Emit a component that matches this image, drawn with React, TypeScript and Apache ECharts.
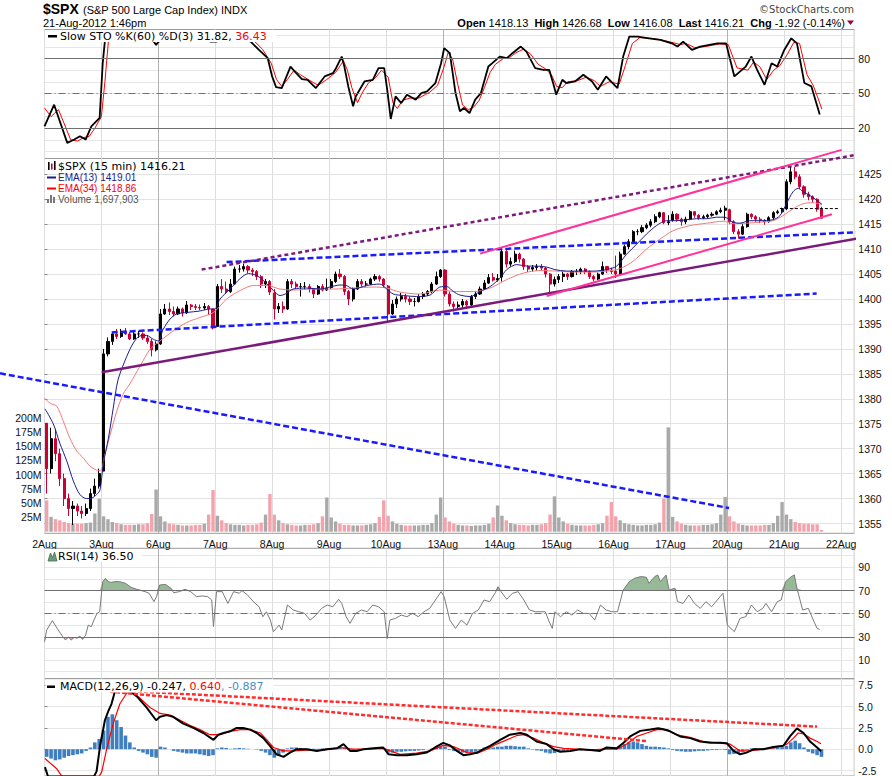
import React, { useEffect, useRef } from "react";
import * as echarts from "echarts";

// ---------------- data ----------------
const dayLabels = ["2Aug","3Aug","6Aug","7Aug","8Aug","9Aug","10Aug","13Aug","14Aug","15Aug","16Aug","17Aug","20Aug","21Aug","22Aug"];
const SLOTS = 185; // half-hour slots across the x axis (13 per session)

// candles per half-hour: [open, close, low, high]
const aug02 = [[1375.1,1366,1361,1375.1],[1366,1372,1365,1374.2],[1372,1369,1367.5,1374],[1369,1364,1362.5,1370],[1364,1360,1358.5,1365],[1360,1358,1356.5,1361],[1358,1358.5,1354.7,1359.5],[1358.5,1357.5,1356.5,1359],[1357.5,1357,1356,1358.5],[1357,1358,1356.5,1359],[1358,1361,1357.5,1362],[1361,1362.5,1360.5,1364],[1362.5,1365,1362,1366]];
const aug03 = [[1365.5,1389,1365.5,1390],[1389,1391.5,1388.5,1392.3],[1391.5,1393,1390.8,1393.3],[1393,1392.5,1392,1394],[1392.5,1393.5,1392.2,1394],[1393.5,1393,1392.8,1394.2],[1393,1392,1391.8,1393.4],[1392,1393,1391.8,1393.4],[1393,1393,1392.2,1393.6],[1393,1392.2,1391.8,1393.3],[1392.2,1391.5,1391,1392.8],[1391.5,1389.8,1388.5,1392],[1389.8,1391,1389.5,1391.5]];
const aug06 = [[1391,1397,1390.8,1398],[1397,1398,1396.8,1399],[1398,1397.5,1396.8,1399.3],[1397.5,1397,1396.5,1398.5],[1397,1398,1396.8,1398.5],[1398,1397.2,1396.5,1398.3],[1397.2,1398.8,1397,1399.6],[1398.8,1398.5,1397.8,1399],[1398.5,1398.3,1397.8,1399],[1398.3,1398.2,1397.8,1398.9],[1398.2,1398.5,1397.8,1399.2],[1398.5,1398,1396.8,1398.8],[1398,1394.2,1393.9,1398]];
const aug07 = [[1394.5,1402.5,1394.5,1403],[1402.5,1402,1401.2,1404],[1402,1401.5,1401,1403.5],[1401.5,1403,1401.2,1404],[1403,1406,1402.8,1406.5],[1406,1406,1405.3,1406.8],[1406,1406.5,1405.5,1407.1],[1406.5,1405.8,1405.2,1406.8],[1405.8,1405.5,1404.6,1406.2],[1405.5,1404.5,1403.8,1405.8],[1404.5,1403,1402.2,1404.8],[1403,1403.5,1402.2,1404],[1403.5,1401.4,1400.8,1403.8]];
const aug08 = [[1401.2,1398,1395.9,1402],[1398,1398.5,1397.2,1399.2],[1398.5,1398,1397.2,1399.5],[1398,1403.5,1397.8,1404],[1403.5,1403,1402.2,1404],[1403,1402.5,1402,1403.5],[1402.5,1402.5,1400.5,1403.2],[1402.5,1402.5,1401.8,1403.4],[1402.5,1402,1401.3,1403],[1402,1401,1400.2,1402.2],[1401,1402.5,1400.8,1402.8],[1402.5,1401.8,1401.5,1403],[1401.8,1402.2,1401.6,1404.1]];
const aug09 = [[1402.3,1403.5,1402,1404],[1403.5,1405,1403.2,1405.5],[1405,1404.5,1404,1406],[1404.5,1401.5,1400.8,1404.8],[1401.5,1400,1398.8,1401.8],[1400,1402,1399.5,1402.3],[1402,1403.5,1401.8,1404],[1403.5,1403,1402.5,1404],[1403,1403,1402.5,1403.6],[1403,1404,1402.8,1404.3],[1404,1404.5,1403.6,1405],[1404.5,1404,1403.5,1404.8],[1404,1402.8,1402.2,1404.2]];
const aug10 = [[1402.6,1397,1395.6,1402.8],[1397,1399,1396.8,1399.8],[1399,1400,1398.2,1400.5],[1400,1400.5,1399.5,1401.2],[1400.5,1400,1399.3,1401],[1400,1399.5,1398.8,1400.5],[1399.5,1399.5,1398.5,1400.2],[1399.5,1400.5,1399.3,1401],[1400.5,1401,1400,1401.4],[1401,1401.5,1400.6,1401.8],[1401.5,1403,1401.2,1403.4],[1403,1404.5,1402.8,1405.5],[1404.5,1405.8,1404.2,1406]];
const aug13 = [[1405.8,1401,1400.5,1406],[1401,1399,1398.5,1401.5],[1399,1398.5,1397.5,1399.5],[1398.5,1398.8,1397.8,1399.5],[1398.8,1399.5,1398.3,1400],[1399.5,1398.8,1398,1399.8],[1398.8,1400.5,1398.6,1400.8],[1400.5,1401,1400,1401.4],[1401,1402,1400.8,1402.5],[1402,1403.2,1401.8,1403.8],[1403.2,1404.3,1403,1405],[1404.3,1403.8,1403.5,1405.2],[1403.8,1404.1,1403.5,1405]];
const aug14 = [[1404.4,1409.5,1403.5,1410],[1409.5,1407,1406.3,1409.8],[1407,1407.5,1406.5,1408.3],[1407.5,1409,1407.2,1409.7],[1409,1408,1407.3,1409.3],[1408,1406.5,1405.8,1408.2],[1406.5,1406,1405.4,1406.8],[1406,1406.3,1405.5,1406.8],[1406.3,1406.5,1405.7,1407],[1406.5,1406.2,1405.8,1407],[1406.2,1405,1404.3,1406.4],[1405,1403,1401.2,1405.2],[1403,1403.9,1402.5,1404.5]];
const aug15 = [[1403.9,1404.5,1403.2,1405],[1404.5,1405,1403.4,1405.5],[1405,1404.5,1403.8,1405.2],[1404.5,1405.5,1404.3,1405.8],[1405.5,1405.5,1404.8,1406],[1405.5,1406,1405,1406.3],[1406,1405.5,1405,1406.2],[1405.5,1404.5,1404,1405.7],[1404.5,1404,1403.5,1404.8],[1404,1405,1403.8,1405.3],[1405,1406.5,1404.8,1407.5],[1406.5,1405.8,1405.2,1406.6],[1405.8,1405.5,1405,1406.3]];
const aug16 = [[1405.6,1405,1404.2,1408.7],[1405,1409,1404.8,1409.5],[1409,1410.5,1408.8,1410.9],[1410.5,1411.5,1410,1412],[1411.5,1413.5,1411.2,1413.8],[1413.5,1413.5,1412.8,1414],[1413.5,1414.3,1413.2,1414.8],[1414.3,1414.8,1414,1415.2],[1414.8,1415.5,1414.4,1416],[1415.5,1416.5,1415.2,1417],[1416.5,1417.3,1416.2,1417.5],[1417.3,1415.3,1415,1417.4],[1415.3,1415.5,1414.8,1416.8]];
const aug17 = [[1415.8,1417,1415.5,1417.6],[1417,1416,1415.5,1417.2],[1416,1415.5,1414.7,1416.3],[1415.5,1416,1415,1416.5],[1416,1417.5,1415.8,1417.8],[1417.5,1416.8,1416.3,1417.6],[1416.8,1416.3,1415.9,1417],[1416.3,1416.5,1416,1416.9],[1416.5,1416.8,1416.2,1417.1],[1416.8,1417,1416.5,1417.4],[1417,1417.5,1416.8,1417.8],[1417.5,1417.8,1417.2,1418.3],[1417.8,1418.2,1415.8,1418.7]];
const aug20 = [[1417.9,1415.5,1415,1418.1],[1415.5,1413.5,1413,1415.8],[1413.5,1413,1412.1,1414],[1413,1414.5,1412.8,1415],[1414.5,1417,1414.3,1417.3],[1417,1416.5,1416,1417.2],[1416.5,1416,1415.5,1416.8],[1416,1415.8,1415.2,1416.4],[1415.8,1415.5,1414.9,1416],[1415.5,1416.3,1415.3,1416.6],[1416.3,1417.3,1416,1417.6],[1417.3,1417.5,1417,1417.9],[1417.5,1418.1,1417.2,1418.3]];
const aug21 = [[1418.1,1423.5,1417.8,1424],[1423.5,1425.5,1423,1426.7],[1425.5,1424.5,1424,1426.5],[1424.5,1422.5,1422,1425],[1422.5,1421,1420.3,1422.8],[1421,1420.5,1419.8,1421.5],[1420.5,1420,1419.3,1420.8],[1420,1418,1417.5,1420.2],[1418,1416.2,1416.1,1418.5]];

// volume per half-hour bar, millions
const vol02 = [55,26,22,20,17,15,14,14,14,15,16,32,58];
const vol03 = [27,22,17,15,13,12,12,12,13,13,15,31,74];
const vol06 = [27,18,14,13,12,11,11,11,12,12,14,30,73];
const vol07 = [28,20,15,13,12,12,11,12,12,13,16,30,66];
const vol08 = [30,20,15,13,12,11,11,12,12,13,15,27,60];
const vol09 = [25,18,14,12,12,11,11,11,12,13,15,26,55];
const vol10 = [28,18,14,12,11,11,11,11,12,12,15,30,60];
const vol13 = [25,18,14,12,11,11,10,11,11,12,14,25,46];
const vol14 = [28,20,15,13,12,12,11,12,12,13,15,30,62];
const vol15 = [25,18,14,12,11,11,11,11,12,13,15,28,52];
const vol16 = [27,20,15,13,12,11,11,12,12,13,16,58,183];
const vol17 = [26,18,14,12,11,11,11,12,12,13,15,30,61];
const vol20 = [27,18,14,12,11,11,11,11,12,12,15,28,52];
const vol21 = [30,22,17,15,14,14,13,13,3];

// [slot position, value]
const ema13 = [[0.1,1378],[2,1375],[3.5,1371.1],[5.1,1367.5],[6.6,1363.5],[8.1,1360.8],[9.6,1360],[10.8,1360.1],[11.9,1360.8],[12.7,1361.8],[13.4,1366.8],[14.6,1372.1],[15.7,1378.1],[16.8,1383.8],[18.8,1388.5],[20.3,1391.2],[21.8,1392.6],[23.3,1392.7],[24.9,1391.9],[26,1391.6],[27.1,1393.9],[28.7,1396],[30.2,1397],[32.5,1397.3],[35.5,1397.6],[37.8,1398],[38.9,1398],[40.1,1400],[42.4,1402],[44.7,1404.1],[46.6,1405.1],[48.5,1404.7],[50.4,1403.4],[52.3,1401.7],[53.8,1400.7],[55,1401],[56.8,1402],[59.9,1402.2],[62.9,1402],[65.2,1402.4],[67.5,1402.8],[69,1402.7],[70.5,1402],[73.6,1402.7],[76.6,1403],[78.2,1402],[79.7,1401],[82,1400.7],[85,1400.5],[88.1,1400.8],[90.3,1402.4],[91.9,1402.5],[93.4,1401.5],[94.9,1400.8],[97.2,1400.5],[99.5,1401.5],[101.8,1402.5],[104.1,1404.2],[105.6,1405.9],[107.9,1406.9],[110.2,1406.6],[112.4,1406.6],[114.7,1406.4],[116.6,1405.9],[119.3,1405.6],[122.3,1405.6],[125.4,1405.6],[128.4,1405.9],[130.7,1406.6],[133,1409],[135.3,1411],[137.5,1413],[139.8,1414.7],[142.1,1415.7],[144.4,1415.7],[146.7,1415.9],[149,1416.1],[151.3,1416.1],[153.5,1416.4],[155.4,1416.4],[157.3,1415.4],[158.8,1415.2],[161.1,1415.7],[163.4,1415.7],[166.4,1415.9],[168,1416.7],[169.5,1419.1],[171,1421.5],[172.2,1422.2],[173.3,1421.5],[174.8,1420.8],[176.4,1419.8],[177.6,1419]];
const ema34 = [[0,1380.1],[1.3,1379.1],[2.8,1378.5],[4.3,1375.5],[5.8,1372.1],[7.4,1369.5],[8.9,1368.1],[10.4,1366.5],[11.9,1365.7],[12.8,1365.6],[13.8,1368.8],[15,1372.8],[16.5,1377.5],[18,1381],[19.5,1383],[21.8,1386.5],[24.1,1389.9],[26.4,1391.6],[29.4,1393.6],[32.5,1395.3],[35.5,1396.3],[38.6,1397.3],[41.6,1400],[44.7,1401.7],[47.7,1402.7],[50.8,1402.7],[53.8,1402],[56.8,1401.8],[61.4,1402],[66,1402],[70.5,1402.2],[75.1,1402.4],[78.2,1402.2],[81.2,1401.4],[85.8,1401],[90.3,1401.8],[94.2,1401.5],[98,1401.5],[101.8,1402.2],[105.6,1403.9],[109.4,1405.2],[113.2,1405.7],[117,1405.6],[120.8,1405.4],[124.6,1405.4],[128.4,1405.6],[131.5,1406.1],[134.5,1407.6],[137.5,1410],[140.6,1412],[143.6,1413.7],[147.4,1414.7],[151.3,1415.2],[155.1,1415.6],[157.3,1415.1],[160.4,1415.2],[163.4,1415.4],[166.4,1415.7],[168.7,1416.7],[171,1418.1],[173.3,1419.1],[175.6,1419.3],[177.6,1418.9]];

const stoK = [[0,21.7],[2.2,40.3],[5.2,7.4],[6.8,10.3],[8.1,13.1],[9.4,10.3],[10.7,21.7],[12.6,28.9],[13.3,76],[13.9,99],[16,99.5],[20,98.5],[24.5,97],[25.5,91.7],[26.5,97],[30,99],[35,98.5],[38,94.6],[39.3,94.6],[40.5,98.5],[44,99],[47.1,94.6],[49,87.4],[51,80.3],[52,64.6],[52.9,55.4],[54.2,54.6],[56.2,73.1],[57.5,67.4],[58.8,62.3],[60.1,61.7],[62,54.6],[64,64.6],[65.9,67.4],[66.6,71.7],[67.9,81.7],[68.5,73.1],[69.4,56],[70.5,38.9],[71.1,47.4],[73.1,60.3],[75,61.7],[76.3,71.7],[77.6,71.7],[78.3,53.1],[79.1,28],[80.2,47.4],[81.5,41.7],[82.8,48.9],[84.8,44.6],[86.1,50.3],[87.4,51.7],[89.3,58.9],[90.6,76],[91.3,88.9],[92.6,84.6],[93.9,50.3],[94.9,34.6],[95.8,37.4],[97.1,33.1],[98.4,44.6],[99.7,50.3],[101.4,73.1],[102.3,76],[104,81.7],[105.6,80.3],[106.9,84.6],[108.8,90.3],[110.1,86],[112.1,71.7],[114,70.3],[115.3,70.3],[116.3,57.4],[116.9,48.9],[118.3,61.7],[119.2,58.9],[121.2,60.3],[123.1,66],[125.1,60.3],[126.4,53.1],[128.3,64.6],[130.9,54.6],[132.2,81.7],[133.6,98.9],[135.5,98.9],[138.1,97.4],[140.7,96],[143.3,93.1],[144.6,90.3],[145.9,94.6],[147.9,87.4],[149.8,90.3],[153.7,93.1],[155.7,93.1],[157.6,64.6],[160.2,73.1],[161.5,81.7],[162.8,70.3],[164.5,57.4],[166.1,76],[167.4,73.1],[169,87.4],[170.6,97.4],[171.9,93.1],[173.6,58.9],[175.2,56],[176.1,44.6],[177.1,31.8]];
const stoD = [[0,37.4],[1.5,30],[3.2,36],[6,10],[7.5,9],[9,12],[10.2,13],[11.5,20],[13,30],[13.8,60],[14.6,95],[16,99],[20,98.5],[24.5,97],[26,94],[27.5,96],[30,99],[35,98.5],[38.8,95.5],[40,96],[41.5,98.5],[44,99],[47.8,95.5],[49.8,88],[51.8,76],[53,62],[54.2,56],[55.5,62],[57,70],[58.5,66],[60,62.5],[62.5,57],[64.5,62],[66.5,68],[68.3,78],[69.2,70],[70.2,55],[71.5,42],[72.5,50],[74,59],[75.5,63],[77,70],[78.5,64],[79.6,42],[80.6,37],[81.8,44],[83.5,46],[85.5,46],[87,49],[88,51],[89.8,57],[91.3,73],[92.2,85],[93.2,80],[94.4,58],[95.5,40],[96.8,36],[98,38],[99.3,44],[100.5,55],[101.8,68],[103,75],[104.8,80],[106.3,81],[107.7,85],[109.4,88],[111,84],[112.8,75],[114.5,71],[115.8,66],[117,56],[118.3,55],[119.5,60],[121.8,61],[123.8,64],[125.6,61],[127,56],[129,60],[131.3,58],[132.7,74],[134.3,93],[136,98],[138.5,97.5],[141,96],[143.8,93.5],[145.2,92],[146.5,93],[148.5,89.5],[150.5,90],[154.2,92.5],[156.2,92],[158.2,72],[160.7,70],[162,77],[163.4,73],[165,62],[166.6,70],[168,74],[169.6,83],[171.2,94],[172.5,93],[174.2,66],[175.6,57],[176.6,47],[177.6,36.4]];

const rsi14 = [[0,25.8],[0.5,35.9],[1.8,44],[2.9,37.3],[4.2,30.1],[4.8,27.3],[5.5,30.1],[6.1,27.3],[6.8,29.5],[7.4,28.8],[8.1,30.7],[8.7,27.8],[9.4,31.6],[10,40.2],[10.7,38.8],[11.3,44.5],[12,50.3],[12.6,51.7],[13.3,77.6],[13.9,80.5],[14.6,77.6],[15.2,77],[15.9,77.6],[17.2,77.6],[18.5,76.2],[19.8,72.7],[21.1,71],[23,69],[23.9,67.6],[25,60.4],[25.6,64.7],[26.3,74.7],[27.6,75.3],[28.9,71.9],[29.5,68.1],[30.8,69],[32.1,71],[33.4,69],[34.7,64.7],[36,65.3],[37.3,64.7],[38.2,61.8],[38.6,38.8],[39.3,69],[40.6,69],[41.9,58.9],[43.2,69],[44.5,67.6],[45.1,69.9],[46.4,66.1],[47.7,60.4],[49,56],[49.9,47.4],[50.7,51.7],[51.6,44.5],[52.3,34.5],[53.6,40.2],[54.2,35.9],[55.5,57.5],[56.8,53.2],[58.1,51.7],[59.4,50.3],[60.7,44.5],[62,48.8],[63.3,54.6],[64.6,57.5],[65.9,56],[67.2,62.4],[67.9,58.9],[68.9,47.4],[69.8,41.7],[71.1,50.3],[72.4,53.2],[73.7,51.7],[75,57.5],[76.3,56],[77.6,51.7],[78.3,28.7],[78.9,44.5],[80.2,46],[81.5,48.8],[82.8,47.4],[84.1,50.3],[85.4,47.4],[86.7,51.7],[88,54.6],[89.3,61.8],[90.6,69],[91.3,64.7],[92.6,44.5],[93.9,37.3],[95.2,44.5],[96.5,40.2],[97.8,50.3],[99.1,53.2],[100.4,61.8],[101.7,60.4],[103,68.1],[103.6,73.3],[104.3,69],[105.6,62.4],[106.9,67.6],[108.2,69],[109.5,61.8],[110.8,53.2],[112.1,51.7],[113.4,51.7],[114.4,51.7],[115.3,43.1],[116,37.3],[116.6,51.7],[117.9,47.4],[119.2,51.7],[120.5,48.8],[121.8,53.2],[123.1,50.3],[124.4,50.3],[125.7,44.5],[127,57.5],[128.3,53.2],[129.6,51.7],[130.9,51.7],[132.2,70.4],[133.6,77.6],[134.8,80.5],[136.2,82],[137.5,81.4],[138.1,76.2],[139.4,82],[140.1,83.4],[140.7,77.6],[142,83.4],[142.7,70.4],[144,71.9],[144.6,60.4],[145.9,58.9],[147.2,66.1],[148.5,58.9],[149.8,54.6],[151.1,60.4],[152.4,56],[153.7,61.8],[155,67.6],[156,40.2],[157.6,34.5],[158.9,46],[160.2,47.4],[161.5,57.5],[162.8,51.7],[164.1,54.6],[164.8,58.9],[166.1,51.7],[167.4,60.4],[168.3,61.8],[169.3,77.6],[170.6,82],[171.3,83.4],[171.9,71.9],[173.2,53.2],[174.5,54.6],[175.8,43.1],[176.5,37.3],[177.1,36.5]];

const macdLine = [[0.1,-2.1],[0.8,-3.2],[11.3,-3.2],[11.9,-2.6],[12.7,0.4],[13.8,3.4],[14.6,4.5],[15.3,5.3],[16.1,6.8],[16.8,7.5],[17.6,7.7],[18.6,7.3],[19.5,6.8],[21.1,6.2],[23.3,4.9],[25.5,3.4],[26.4,3.8],[27.9,4],[29.4,3.8],[31.7,3],[34,2.5],[36.3,1.9],[38.6,1.1],[39.7,1.7],[40.9,1.9],[42.4,2.1],[43.9,2.5],[45.4,2.5],[47,2.3],[48.5,1.9],[50,1.3],[51.5,0.4],[53,-0.6],[54.6,-0.9],[56.1,-0.4],[57.6,0],[59.9,0],[62.2,-0.2],[64.5,0],[66.8,0.1],[68.3,0.6],[69.8,-0.2],[71.3,-0.2],[72.9,0],[75.1,0.1],[77.4,0.2],[78.6,-0.6],[80.5,-0.7],[82.8,-0.7],[85,-0.6],[87.3,-0.4],[89.2,0.2],[91.1,0.75],[92.6,0.45],[94.2,-0.2],[95.7,-0.7],[97.3,-0.6],[98.8,-0.4],[100.3,0],[101.8,0.4],[104.1,1.1],[106.3,1.7],[108.7,1.9],[110.2,1.7],[112.4,0.9],[114.7,0.6],[116.3,0],[117.8,-0.3],[120.1,-0.2],[122.3,0],[124.7,-0.1],[126.9,-0.2],[128.4,0.2],[130.7,0.1],[132.3,0.75],[133.8,1.5],[136.1,2.15],[138.4,2.3],[140.2,2.45],[141.4,2.35],[142.9,2.1],[145.2,1.5],[147.5,1.3],[149.8,0.9],[152.1,0.75],[154.4,0.75],[155.9,0.7],[157.4,-0.2],[158.9,-0.6],[160.4,-0.4],[162,0],[164.2,0],[166.5,0.25],[168.8,0.4],[170.3,1.5],[171.9,2.45],[173.4,1.9],[174.9,0.9],[176.5,0.2],[177.4,-0.25]];
const macdSignal = [[0.1,-1.1],[2.8,-2.3],[4,-3.2],[12.5,-3.2],[13.1,-2.6],[14.2,0],[15.7,3],[17.2,5.3],[18.8,6.6],[20.3,6.6],[21.8,6],[24.1,4.9],[26.4,4.2],[28.7,4],[31,3.4],[33.2,2.8],[35.5,2.3],[37.8,1.7],[40.1,1.7],[42.4,2.1],[44.7,2.3],[47,2.3],[49.3,1.9],[50.8,1.1],[52.3,0.2],[54.6,-0.2],[56.9,-0.2],[59.9,-0.1],[63.7,-0.1],[67.5,0.2],[70.4,0],[74.4,0],[77.4,0.1],[79,-0.2],[81.2,-0.6],[85,-0.45],[88.1,-0.2],[91.1,0.45],[93.4,0.3],[94.9,0],[96.5,-0.4],[98.8,-0.5],[101.1,0],[103.3,0.6],[105.6,1.1],[107.9,1.6],[109.4,1.7],[111.7,1.3],[114,0.75],[116.3,0.3],[118.6,0.1],[121.6,0],[124.7,-0.1],[127.7,0],[130.7,0],[133,0.6],[135.3,1.5],[137.6,1.9],[139.9,2.3],[142.2,2.3],[144.4,1.7],[147.5,1.4],[150.5,0.9],[153.6,0.75],[156.6,0.6],[158.9,-0.2],[161.2,-0.2],[164.2,0],[167.3,0.2],[169.6,0.6],[171.1,1.3],[172.2,1.9],[173.4,1.8],[174.9,1.3],[176.5,0.9],[177.4,0.64]];
const macdHist = [-0.9,-1.1,-1.3,-1.2,-1.0,-0.8,-0.7,-0.6,-0.5,-0.2,
  0.2,0.8,1.2,2.2,3.8,4.1,3.4,2.6,1.6,0.8,
  0.2,-0.2,-0.4,-0.6,-0.9,-1.0,0.3,0.2,0,-0.2,
  -0.3,-0.4,-0.5,-0.5,-0.5,-0.6,-0.7,-0.8,-0.7,0.1,
  0.2,0.15,0.05,0.1,0.15,0.1,0.05,0,-0.05,-0.2,
  -0.4,-0.7,-1.0,-0.8,-0.4,0.1,0.2,0.2,0.15,0.1,
  0.05,0.05,0.05,0.1,0.1,0.1,0.15,0.2,0.2,-0.1,
  -0.1,0,0,0.05,0.1,0.15,0.15,0.1,-0.4,-0.4,
  -0.3,-0.3,-0.25,-0.2,-0.2,-0.15,-0.1,0,0.05,0.2,
  0.3,0.3,-0.1,-0.2,-0.3,-0.4,-0.4,-0.4,-0.3,-0.1,
  0.2,0.2,0.2,0.3,0.3,0.4,0.4,0.35,0.3,0.3,
  0.1,-0.05,-0.15,-0.2,-0.4,-0.5,-0.45,-0.3,-0.2,-0.1,
  -0.1,-0.1,-0.1,-0.1,-0.05,-0.1,-0.1,0,0.1,0.1,
  0.1,0.3,0.6,0.8,0.9,0.8,0.6,0.4,0.3,0.3,
  0.25,0.2,0.1,-0.1,-0.2,-0.25,-0.3,-0.3,-0.25,-0.2,
  -0.2,-0.15,-0.1,-0.1,-0.05,-0.1,-0.6,-0.55,-0.45,-0.3,
  -0.1,0.1,0.1,0.1,0.05,0.1,0.1,0.15,0.25,0.4,
  0.8,1.0,0.7,0.2,-0.3,-0.5,-0.7,-0.9];

// hand-drawn trend lines: [slot position, value]
const tlBlueSteep = [[-10.17,1385.1],[156.4,1358.1]];
const tlBlueLow = [[15.35,1393.3],[176.4,1401.1]];
const tlBlueHigh = [[41.6,1407.4],[193.2,1413.7]];
const tlPurpleDash = [[35.9,1405.9],[189.4,1429.5]];
const tlPurpleSolid = [[13.07,1385.3],[192,1413.1]];
const tlPinkHigh = [[99.5,1409.1],[182.1,1429.9]];
const tlPinkLow = [[114.7,1400.6],[179.9,1417]];
const prevClose = [[168,1418.13],[181.7,1418.13]];
const tlMacdTop = [[14.5,6.95],[176.5,2.65]];
const tlMacdLow = [[15,6.75],[137.5,0.95]];

// ---------------- chart ----------------
const ARIAL = "'Liberation Sans', Arial, Helvetica, sans-serif";
const VERD = "'DejaVu Sans', Verdana, sans-serif";
const GL = 44.5;
const GW = 809.8;
const SLOT_PX = GW / SLOTS;

function buildOption() {
  const candles = [...aug02, ...aug03, ...aug06, ...aug07, ...aug08, ...aug09, ...aug10, ...aug13, ...aug14, ...aug15, ...aug16, ...aug17, ...aug20, ...aug21];
  const volume = [...vol02, ...vol03, ...vol06, ...vol07, ...vol08, ...vol09, ...vol10, ...vol13, ...vol14, ...vol15, ...vol16, ...vol17, ...vol20, ...vol21];
  const cats = Array.from({ length: SLOTS }, (_, i) => String(i));
  const volData = volume.map((v, i) => ({
    value: v,
    itemStyle: { color: candles[i] && candles[i][1] >= candles[i][0] ? "#a9a9a9" : "#f2a3ac" },
  }));
  const rsiHi = rsi14.map(([x, v]) => [x, Math.max(v, 70)]);
  const rsiLo = rsi14.map(([x, v]) => [x, Math.min(v, 30)]);

  const splitColors = ["#dedede", "#dedede", "#b2b2b2", "#dedede", "#dedede"];
  const frameX = (gridIndex: number, labels: boolean) => ({
    type: "value", gridIndex, min: 0, max: SLOTS, interval: 13, position: "bottom",
    axisLine: { show: false }, axisTick: { show: false },
    axisLabel: labels
      ? { show: true, showMaxLabel: false, margin: 5, fontSize: 10.5, color: "#111", fontFamily: ARIAL,
          formatter: (v: number) => (v % 13 === 0 ? dayLabels[v / 13] || "" : "") }
      : { show: false },
    splitLine: { show: true, lineStyle: { color: splitColors, width: 1 } },
  });
  const valX = (gridIndex: number) => ({ type: "value", gridIndex, min: 0, max: SLOTS, show: false });
  const catX = (gridIndex: number) => ({ type: "category", gridIndex, data: cats, boundaryGap: true, show: false });
  const hidY = (gridIndex: number) => ({ type: "value", gridIndex, min: 0, max: 1, show: false });
  const lab = { fontSize: 10.5, color: "#111", margin: 4, fontFamily: ARIAL };
  const tick = { show: true, length: 3, lineStyle: { color: "#888" } };

  const seg = (data: number[][], color: string, width: number, type: any, xi: number, yi: number, z = 6) => ({
    type: "line", data, xAxisIndex: xi, yAxisIndex: yi, symbol: "none", clip: false, silent: true, z,
    lineStyle: { color, width, type }, emphasis: { disabled: true },
  });
  const refLines = (vals: number[], dash: number) => ({
    silent: true, symbol: "none", label: { show: false },
    data: [
      ...vals.map((v) => ({ yAxis: v, lineStyle: { color: "#707070", width: 1, type: "solid" } })),
      { yAxis: dash, lineStyle: { color: "#707070", width: 1, type: [7, 3, 1, 3] } },
    ],
  });

  const txt = (x: number, y: number, text: string, font: string, fill: string, align = "left", rich?: any) => ({
    type: "text", x, y, z: 100, silent: true,
    style: { text, font, fill, align, textAlign: align, verticalAlign: "middle", textVerticalAlign: "middle", rich },
  });
  const box = (x: number, y: number, w: number, h: number, fill: string, z = 99) => ({
    type: "rect", z, silent: true, shape: { x, y, width: w, height: h }, style: { fill },
  });

  return {
    animation: false,
    backgroundColor: "#ffffff",
    textStyle: { fontFamily: ARIAL },
    grid: [
      { left: GL, width: GW, top: 29.5, height: 129, show: true, borderColor: "#9a9a9a", borderWidth: 1 },
      { left: GL, width: GW, top: 35.3, height: 116.2 },
      { left: GL, width: GW, top: 158.5, height: 374.8, show: true, borderColor: "#9a9a9a", borderWidth: 1 },
      { left: GL, width: GW, top: 174.3, height: 349.2 },
      { left: GL, width: GW, top: 417.7, height: 114 },
      { left: GL, width: GW, top: 548.3, height: 130.4, show: true, borderColor: "#9a9a9a", borderWidth: 1 },
      { left: GL, width: GW, top: 555.7, height: 116 },
      { left: GL, width: GW, top: 678.7, height: 130, show: true, borderColor: "#9a9a9a", borderWidth: 1 },
      { left: GL, width: GW, top: 685.3, height: 88.4 },
      // overlay for drawn trend lines: starts at the page's left edge
      { left: 0, width: GL + GW, top: 174.3, height: 349.2 },
    ],
    xAxis: [
      frameX(0, false), // 0
      valX(1),          // 1
      frameX(2, true),  // 2
      catX(3),          // 3
      valX(3),          // 4
      catX(4),          // 5
      frameX(5, false), // 6
      valX(6),          // 7
      frameX(7, false), // 8
      catX(8),          // 9
      valX(8),          // 10
      { type: "value", gridIndex: 9, min: -GL / SLOT_PX, max: SLOTS, show: false }, // 11
    ],
    yAxis: [
      hidY(0),
      { type: "value", gridIndex: 1, min: 0, max: 100, interval: 10, position: "right",
        axisLine: { show: false }, axisTick: { show: false },
        axisLabel: { ...lab, formatter: (v: number) => (v === 20 || v === 50 || v === 80 ? String(v) : "") },
        splitLine: { lineStyle: { color: "#e6e6e6" } } },
      hidY(2),
      { type: "value", gridIndex: 3, min: 1355, max: 1425, interval: 5, position: "right",
        axisLine: { show: false }, axisTick: tick, axisLabel: { ...lab, formatter: (v: number) => String(v) },
        splitLine: { lineStyle: { color: "#e3e3e3" } } },
      { type: "value", gridIndex: 4, min: 0, max: 200, interval: 25, position: "left",
        axisLine: { show: false }, axisTick: { show: false },
        axisLabel: { ...lab, margin: 3, formatter: (v: number) => (v === 0 ? "" : v + "M") },
        splitLine: { show: false } },
      hidY(5),
      { type: "value", gridIndex: 6, min: 0, max: 100, interval: 10, position: "right",
        axisLine: { show: false }, axisTick: { show: false },
        axisLabel: { ...lab, formatter: (v: number) => (v % 20 === 10 ? String(v) : "") },
        splitLine: { lineStyle: { color: "#e6e6e6" } } },
      hidY(7),
      { type: "value", gridIndex: 8, min: -2.5, max: 7.5, interval: 2.5, position: "right",
        axisLine: { show: false }, axisTick: tick,
        axisLabel: { ...lab, formatter: (v: number) => v.toFixed(1) },
        splitLine: { lineStyle: { color: "#e6e6e6" } } },
      { type: "value", gridIndex: 9, min: 1355, max: 1425, show: false }, // 9
    ],
    series: [
      // slow stochastics
      { type: "line", xAxisIndex: 1, yAxisIndex: 1, data: stoD, symbol: "none", silent: true, z: 3,
        lineStyle: { color: "#ff0000", width: 1 }, markLine: refLines([80, 20], 50) },
      { type: "line", xAxisIndex: 1, yAxisIndex: 1, data: stoK, symbol: "none", silent: true, z: 4,
        lineStyle: { color: "#000000", width: 1.8 } },
      // volume
      { type: "bar", xAxisIndex: 5, yAxisIndex: 4, data: volData, barWidth: 3.4, silent: true, z: 1 },
      // price
      { type: "candlestick", xAxisIndex: 3, yAxisIndex: 3, data: candles, barWidth: 2.6, clip: false, silent: true, z: 3,
        itemStyle: { color: "#000000", color0: "#cc0033", borderColor: "#000000", borderColor0: "#cc0033", borderWidth: 1 } },
      { type: "line", xAxisIndex: 4, yAxisIndex: 3, data: ema34, symbol: "none", smooth: 0.3, clip: false, silent: true, z: 4,
        lineStyle: { color: "#f47a7a", width: 1 } },
      { type: "line", xAxisIndex: 4, yAxisIndex: 3, data: ema13, symbol: "none", smooth: 0.3, clip: false, silent: true, z: 4,
        lineStyle: { color: "#1c1c8f", width: 1 } },
      seg(tlBlueSteep, "#1a1aff", 2.5, [6, 3], 11, 9),
      seg(tlBlueLow, "#1a1aff", 2.5, [6, 3], 11, 9),
      seg(tlBlueHigh, "#1a1aff", 2.5, [6, 3], 11, 9),
      seg(tlPurpleDash, "#7d1a7d", 2.5, [4, 3], 11, 9),
      seg(tlPurpleSolid, "#7a1a7a", 2.5, "solid", 11, 9),
      seg(tlPinkHigh, "#ff3399", 2, "solid", 11, 9),
      seg(tlPinkLow, "#ff3399", 2, "solid", 11, 9),
      seg(prevClose, "#000000", 1, [3, 2], 11, 9),
      // RSI
      { type: "line", xAxisIndex: 7, yAxisIndex: 6, data: rsiHi, symbol: "none", silent: true, z: 2,
        lineStyle: { width: 0, opacity: 0 }, areaStyle: { origin: 70, color: "#98b998", opacity: 1 } },
      { type: "line", xAxisIndex: 7, yAxisIndex: 6, data: rsiLo, symbol: "none", silent: true, z: 2,
        lineStyle: { width: 0, opacity: 0 }, areaStyle: { origin: 30, color: "#e4a0c8", opacity: 1 } },
      { type: "line", xAxisIndex: 7, yAxisIndex: 6, data: rsi14, symbol: "none", silent: true, z: 3,
        lineStyle: { color: "#7a7a7a", width: 1 }, markLine: refLines([70, 30], 50) },
      // MACD
      { type: "bar", xAxisIndex: 9, yAxisIndex: 8, data: macdHist, barWidth: 3.6, silent: true, z: 2,
        itemStyle: { color: "#3f7fbf" } },
      { type: "line", xAxisIndex: 10, yAxisIndex: 8, data: macdSignal, symbol: "none", clip: false, silent: true, z: 3,
        lineStyle: { color: "#ff0000", width: 1.2 } },
      { type: "line", xAxisIndex: 10, yAxisIndex: 8, data: macdLine, symbol: "none", clip: false, silent: true, z: 4,
        lineStyle: { color: "#000000", width: 2 } },
      seg(tlMacdTop, "#ff2d2d", 2.5, [4, 2], 10, 8),
      seg(tlMacdLow, "#ff2d2d", 2.5, [4, 2], 10, 8),
    ],
    graphic: [
      // header
      txt(43, 9, "$SPX", `bold 14px ${ARIAL}`, "#000"),
      txt(83, 9.5, "(S&P 500 Large Cap Index) INDX", `11px ${ARIAL}`, "#000"),
      txt(43, 22.5, "21-Aug-2012 1:46pm", `11px ${ARIAL}`, "#000"),
      txt(854, 9, "\u00a9StockCharts.com", `10px ${VERD}`, "#444", "right"),
      txt(845, 22.7,
        "{b|Open} 1418.13  {b|High} 1426.68  {b|Low} 1416.08  {b|Last} 1416.21  {b|Chg} -1.92 (-0.14%)",
        `11px ${ARIAL}`, "#000", "right",
        { b: { fontWeight: "bold", fontSize: 11, fontFamily: ARIAL, fill: "#000" } }),
      { type: "polygon", z: 100, silent: true, shape: { points: [[847, 20.5], [854, 20.5], [850.5, 25]] }, style: { fill: "#99003a" } },
      // STO legend
      box(45.5, 30.2, 231, 11.8, "#ffffff"),
      box(48, 35, 9, 2.5, "#000000", 100),
      txt(60, 36, "{k|Slow STO %K(60) %D(3) 31.82, }{d|36.43}", `11px ${VERD}`, "#000", "left",
        { k: { fill: "#000", fontSize: 11, fontFamily: VERD }, d: { fill: "#ff0000", fontSize: 11, fontFamily: VERD } }),
      // price legend
      box(48, 162, 1.6, 8, "#000", 100), box(51, 163.5, 1.6, 6, "#cc0033", 100), box(54, 161, 1.6, 9, "#000", 100),
      txt(58, 166, "$SPX (15 min) 1416.21", `11px ${VERD}`, "#000"),
      box(47, 176.5, 9, 2, "#1c1c8f", 100),
      txt(58, 177.5, "EMA(13) 1419.01", `10px ${ARIAL}`, "#1c1c8f"),
      box(47, 187.5, 9, 2, "#ff0000", 100),
      txt(58, 188.5, "EMA(34) 1418.86", `10px ${ARIAL}`, "#ff0000"),
      box(47, 199, 2, 4, "#777", 100), box(50, 195, 2, 8, "#777", 100), box(53, 197, 2, 6, "#777", 100),
      txt(58, 199.5, "Volume 1,697,903", `10px ${ARIAL}`, "#555"),
      // RSI legend
      box(45.5, 549, 96, 12.5, "#ffffff"),
      { type: "polygon", z: 100, silent: true, shape: { points: [[48, 561], [50.5, 553], [52.5, 557.5], [54.5, 552], [57, 561]] }, style: { fill: "#6f9a7c", stroke: "#3f6f4f", lineWidth: 0.8 } },
      txt(58, 556.5, "RSI(14) 36.50", `11px ${VERD}`, "#000"),
      // MACD legend
      box(45.5, 679.4, 228, 13, "#ffffff"),
      box(47, 685.5, 8, 2.5, "#000000", 100),
      txt(60, 686.5, "{k|MACD(12,26,9) -0.247, }{s|0.640}{h|, -0.887}", `11px ${VERD}`, "#000", "left",
        { k: { fill: "#000", fontSize: 11, fontFamily: VERD }, s: { fill: "#ff0000", fontSize: 11, fontFamily: VERD },
          h: { fill: "#4a8cc8", fontSize: 11, fontFamily: VERD } }),
    ],
  };
}

export default function App() {
  const ref = useRef<HTMLDivElement>(null);
  useEffect(() => {
    if (!ref.current) return;
    const chart = echarts.init(ref.current, undefined, { renderer: "svg" });
    chart.setOption(buildOption() as any);
    return () => chart.dispose();
  }, []);
  return (
    <div
      ref={ref}
      style={{ position: "absolute", left: 0, top: 0, width: 892, height: 776, background: "#fff" }}
    />
  );
}
